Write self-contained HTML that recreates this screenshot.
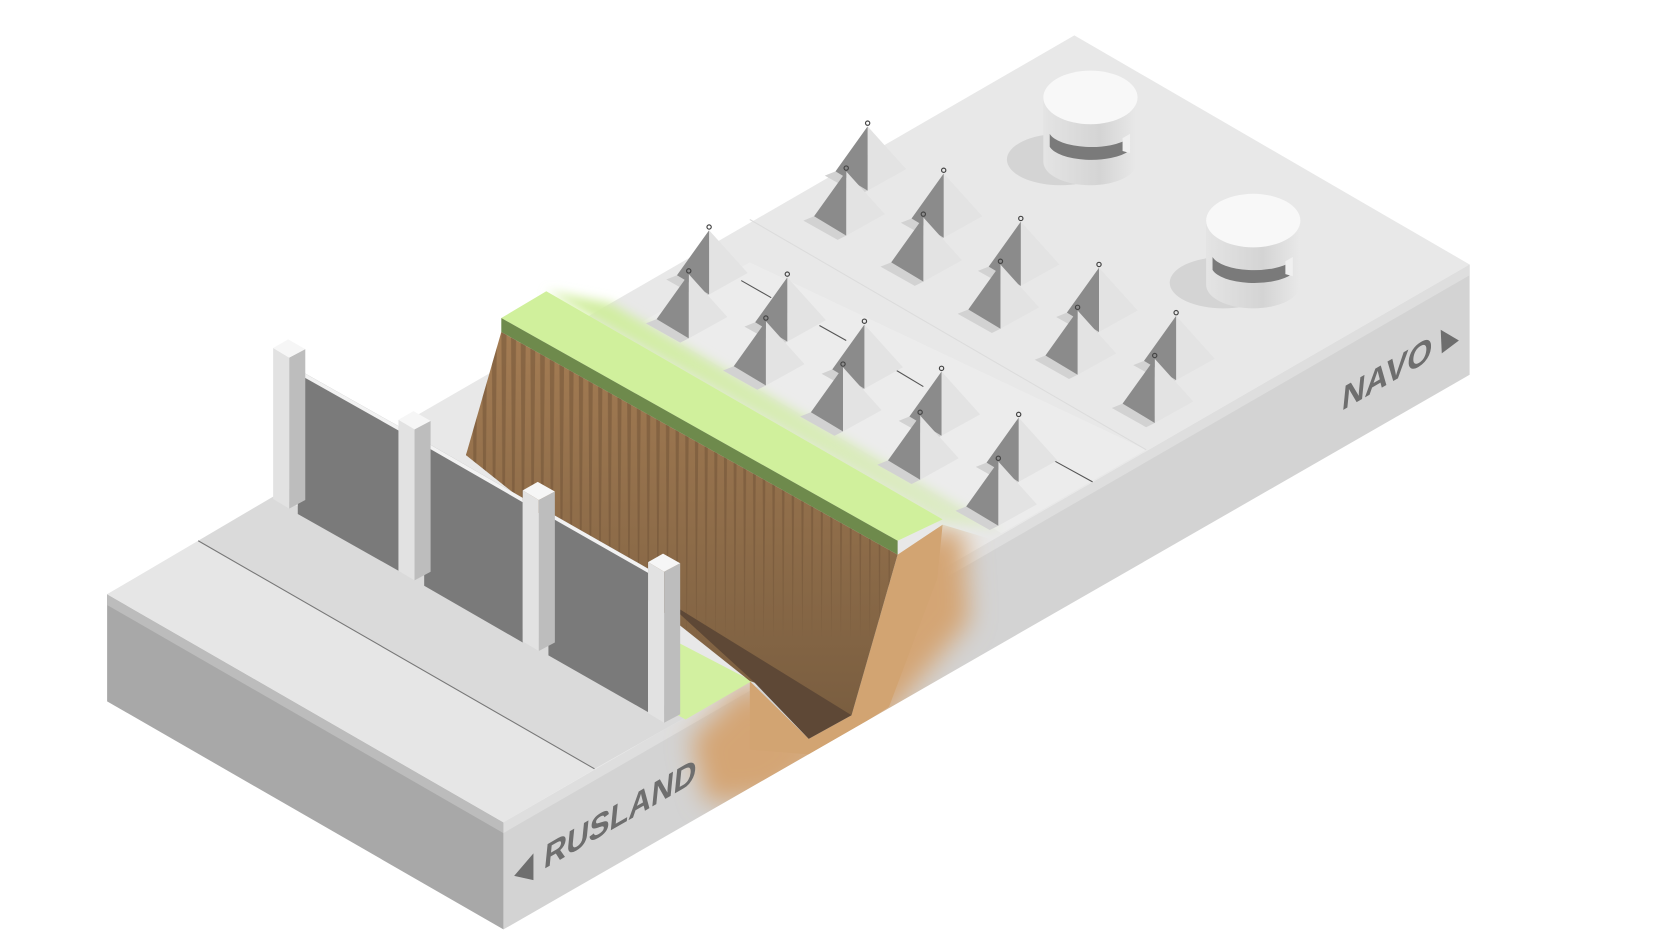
<!DOCTYPE html>
<html><head><meta charset="utf-8"><style>html,body{margin:0;padding:0;background:#fff;}svg{display:block}</style></head>
<body>
<svg width="1671" height="938" viewBox="0 0 1560 876" preserveAspectRatio="none" xmlns="http://www.w3.org/2000/svg">
<defs>
<filter id="bl" x="-30%" y="-30%" width="160%" height="160%"><feGaussianBlur stdDeviation="12"/></filter>
<filter id="bl2" x="-30%" y="-30%" width="160%" height="160%"><feGaussianBlur stdDeviation="5"/></filter>
<clipPath id="faceclip"><polygon points="470,768 700,636 755,690 795,668 838,518 880,490 930,505 1372,247 1372,350 470,868"/></clipPath>
<linearGradient id="brown" x1="0" y1="0" x2="0" y2="1"><stop offset="0" stop-color="#a47c53"/><stop offset="1" stop-color="#7a5e40"/></linearGradient>
<pattern id="stripes" width="9" height="600" patternUnits="userSpaceOnUse" y="300"><path d="M0,0 L5,0 L2,300 Z" fill="#6a4e33" opacity="0.45"/></pattern>
<linearGradient id="gfade" x1="0" y1="0" x2="1" y2="-0.3"><stop offset="0" stop-color="#cfee9a"/><stop offset="1" stop-color="#e8e8e8"/></linearGradient>
<linearGradient id="cyl" x1="0" y1="0" x2="1" y2="0"><stop offset="0" stop-color="#e4e4e4"/><stop offset="0.6" stop-color="#d4d4d4"/><stop offset="1" stop-color="#e9e9e9"/></linearGradient>
<g id="pyr">
<polygon points="-30,42 -40,46 -8,64 0,60" fill="#d2d2d2"/>
<polygon points="0,0 0,60 36,40" fill="#e3e3e3"/>
<polygon points="0,0 -30,42 0,60" fill="#8b8b8b"/>
<circle cx="0" cy="-3" r="2" fill="none" stroke="#444" stroke-width="1.1"/>
</g>
<g id="bunk">
<ellipse cx="-28" cy="58" rx="50" ry="24" fill="#d4d4d4"/>
<path d="M-44,0 L-44,60 A44,22 0 0 0 44,60 L44,0 Z" fill="url(#cyl)"/>
<path d="M-38,34 A40,16 0 0 0 36,38 L36,50 A40,16 0 0 1 -38,46 Z" fill="#7a7a7a"/>
<polygon points="30,38 37,34 37,52 30,50" fill="#f0f0f0"/>
<ellipse cx="0" cy="0" rx="44" ry="25" fill="#f8f8f8"/>
</g>
</defs>

<!-- base block -->
<polygon points="100,555 470,768 470,868 100,655" fill="#a8a8a8"/>
<polygon points="100,555 470,768 470,778 100,565" fill="#bcbcbc"/>
<polygon points="470,768 1372,247 1372,350 470,868" fill="#d3d3d3"/>
<polygon points="470,768 1372,247 1372,257 470,778" fill="#dedede"/>
<polygon points="100,555 470,768 1372,247 1003,33" fill="#e8e8e8"/>

<!-- NATO top details -->
<polygon points="600,300 700,245 1070,420 935,498" fill="#ececec"/>
<line x1="700" y1="205" x2="1070" y2="420" stroke="#dcdcdc" stroke-width="1"/>
<g stroke="#555" stroke-width="1"><line x1="692" y1="262" x2="720" y2="278"/><line x1="765" y1="304" x2="790" y2="318"/><line x1="837" y1="346" x2="862" y2="361"/><line x1="980" y1="428" x2="1020" y2="450"/></g>

<!-- Russia top -->
<polygon points="100,555 470,768 555,718 185,505" fill="#e6e6e6"/>
<polygon points="185,505 555,718 640,670 258,462" fill="#dadada"/>
<line x1="185" y1="505" x2="555" y2="718" stroke="#777" stroke-width="1"/>

<!-- orange cross section clipped -->
<g clip-path="url(#faceclip)">
<polygon points="645,690 700,636 755,690 795,668 838,518 880,490 900,500 905,580 820,680 720,745 660,750" fill="#d4a574" filter="url(#bl)"/>
<polygon points="700,636 755,690 795,668 838,518 880,490 875,540 830,660 760,705 700,700" fill="#d2a472"/>
</g>

<!-- small green area -->
<polygon points="633,600 702,636 640,672 633,668" fill="#d2f0a0"/>

<!-- NATO-side green fade slope -->
<polygon points="510,272 570,283 935,495 880,487" fill="url(#gfade)" filter="url(#bl2)"/>

<!-- brown face -->
<polygon points="468,310 838,518 795,668 700,636 435,425" fill="url(#brown)"/>
<polygon points="468,310 838,518 795,668 700,636 435,425" fill="url(#stripes)"/>
<polygon points="620,560 795,668 755,690 703,636" fill="#5e4836"/>
<!-- green top -->
<polygon points="468,297 510,272 880,485 838,505" fill="#d0f09c"/>
<polygon points="468,297 838,505 838,518 468,310" fill="#6e8a4c"/>

<!-- dragon teeth back row -->
<use href="#pyr" x="810" y="118"/><use href="#pyr" x="790" y="160"/>
<use href="#pyr" x="881" y="162"/><use href="#pyr" x="862" y="203"/>
<use href="#pyr" x="953" y="207"/><use href="#pyr" x="934" y="247"/>
<use href="#pyr" x="1026" y="250"/><use href="#pyr" x="1006" y="290"/>
<use href="#pyr" x="1098" y="295"/><use href="#pyr" x="1078" y="335"/>
<!-- front row -->
<use href="#pyr" x="662" y="215"/><use href="#pyr" x="643" y="256"/>
<use href="#pyr" x="735" y="259"/><use href="#pyr" x="715" y="300"/>
<use href="#pyr" x="807" y="303"/><use href="#pyr" x="787" y="343"/>
<use href="#pyr" x="879" y="347"/><use href="#pyr" x="859" y="388"/>
<use href="#pyr" x="951" y="390"/><use href="#pyr" x="932" y="431"/>

<!-- bunkers -->
<use href="#bunk" x="1018" y="91"/>
<use href="#bunk" x="1170" y="206"/>

<!-- fence -->
<polygon points="278,345 372,398 372,533 278,480" fill="#7a7a7a"/>
<polygon points="278,345 372,398 372,402 278,349" fill="#f2f2f2"/>
<polygon points="396,412 488,465 488,600 396,547" fill="#7a7a7a"/>
<polygon points="396,412 488,465 488,469 396,416" fill="#f2f2f2"/>
<polygon points="512,478 605,531 605,665 512,612" fill="#7a7a7a"/>
<polygon points="512,478 605,531 605,535 512,482" fill="#f2f2f2"/>
<g id="post1">
<polygon points="255,325 270,334 270,475 255,466" fill="#e2e2e2"/>
<polygon points="270,334 285,326 285,467 270,475" fill="#bdbdbd"/>
<polygon points="255,325 269,317 285,326 270,334" fill="#f6f6f6"/>
</g>
<use href="#post1" x="117" y="67"/>
<use href="#post1" x="233" y="133"/>
<use href="#post1" x="350" y="200"/>

<!-- labels -->
<polygon points="480,818 498,797 498,822" fill="#6e6e6e"/>
<text transform="translate(507,812) skewY(-30) skewX(-6)" font-family="Liberation Sans, sans-serif" font-weight="bold" font-size="31" textLength="142" lengthAdjust="spacingAndGlyphs" fill="#6e6e6e">RUSLAND</text>
<polygon points="1345,308 1362,318 1346,330" fill="#6e6e6e"/>
<text transform="translate(1252,384) skewY(-30) skewX(-6)" font-family="Liberation Sans, sans-serif" font-weight="bold" font-size="31" textLength="84" lengthAdjust="spacingAndGlyphs" fill="#6e6e6e">NAVO</text>
</svg>
</body></html>
